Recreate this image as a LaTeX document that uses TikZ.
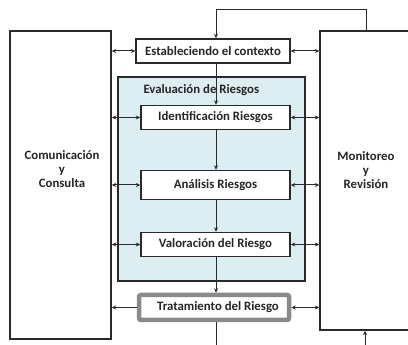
\documentclass[tikz,border=0pt]{standalone}
\usepackage{fontspec}
\setmainfont{Carlito}
\usetikzlibrary{arrows.meta}
\definecolor{lineC}{HTML}{2A2A2A}
\definecolor{blueF}{HTML}{DCEEF1}
\definecolor{trGray}{HTML}{8A8A8A}
\begin{document}
\begin{tikzpicture}[x=1pt,y=-1pt,
  every node/.style={font=\bfseries\fontsize{12.8}{14}\selectfont, text=black!85},
  stepbox/.style={draw=lineC, line width=1.4pt, fill=white, minimum width=149pt, minimum height=24pt, inner sep=0pt},
  bigbox/.style={draw=lineC, line width=1.4pt, fill=white, inner sep=0pt},
  conn/.style={draw=lineC, line width=1pt},
  tip/.style={-{Stealth[length=4.5pt,width=4pt]}},
  both/.style={{Stealth[length=4.5pt,width=4pt]}-{Stealth[length=4.5pt,width=4pt]}}
]
\useasboundingbox (0,0) rectangle (408,345);
% blue region
\node[draw=lineC, line width=1.4pt, fill=blueF, minimum width=187pt, minimum height=204pt, inner sep=0pt] (eval) at (211.5,179) {};
\node[anchor=west] (evallbl) at (140,90) {Evaluación de Riesgos};
% side boxes
\node[bigbox, minimum width=101pt, minimum height=308pt] (comm) at (60.5,185) {};
\node[align=center] (commlbl) at (62,169) {Comunicación\\[0pt]y\\[0pt]Consulta};
\node[bigbox, minimum width=100pt, minimum height=299pt] (mon) at (370,180.5) {};
\node[align=center] (monlbl) at (366,170) {Monitoreo\\[0pt]y\\[0pt]Revisión};
% steps
\node[stepbox, minimum width=154pt] (ctx) at (213,51) {Estableciendo el contexto};
\node[stepbox] (ident) at (215.5,117.5) {Identificación Riesgos};
\node[stepbox, minimum height=29pt] (anal) at (215.5,185) {Análisis Riesgos};
\node[stepbox] (valor) at (215.5,244.5) {Valoración del Riesgo};
\node[draw=trGray, line width=4.5pt, rounded corners=2pt, fill=white, minimum width=150pt, minimum height=25pt, inner sep=0pt] (trat) at (214,307.5) {\hspace*{8pt}Tratamiento del Riesgo};
% spine and loop coordinates
\coordinate (sp) at (216,0);
\coordinate (loopL) at (216,10);
\coordinate (loopR) at (366,10);
\coordinate (botL) at (216,346);
\coordinate (botR) at (365,346);
% vertical flow
\draw[conn, tip] (mon.north -| loopR) -- (loopR) -- (loopL) -- (sp |- ctx.north);
\draw[conn, tip] (sp |- ctx.south) -- (sp |- ident.north);
\draw[conn, tip] (sp |- ident.south) -- (sp |- anal.north);
\draw[conn, tip] (sp |- anal.south) -- (sp |- valor.north);
\draw[conn, tip] (sp |- valor.south) -- (sp |- trat.north);
\draw[conn] (sp |- trat.south) -- (botL);
\draw[conn, tip] (botR) -- (botR |- mon.south);
% horizontal links left
\draw[conn, both] (comm.east |- ctx.west) -- (ctx.west);
\draw[conn, both] (comm.east |- ident.west) -- (ident.west);
\draw[conn, both] (comm.east |- anal.west) -- (anal.west);
\draw[conn, both] (comm.east |- valor.west) -- (valor.west);
\draw[conn, tip] (trat.west) -- (comm.east |- trat.west);
% horizontal links right
\draw[conn, both] (ctx.east) -- (mon.west |- ctx.east);
\draw[conn, both] (ident.east) -- (mon.west |- ident.east);
\draw[conn, both] (anal.east) -- (mon.west |- anal.east);
\draw[conn, both] (valor.east) -- (mon.west |- valor.east);
\draw[conn, both] (trat.east) -- (mon.west |- trat.east);
\end{tikzpicture}
\end{document}
